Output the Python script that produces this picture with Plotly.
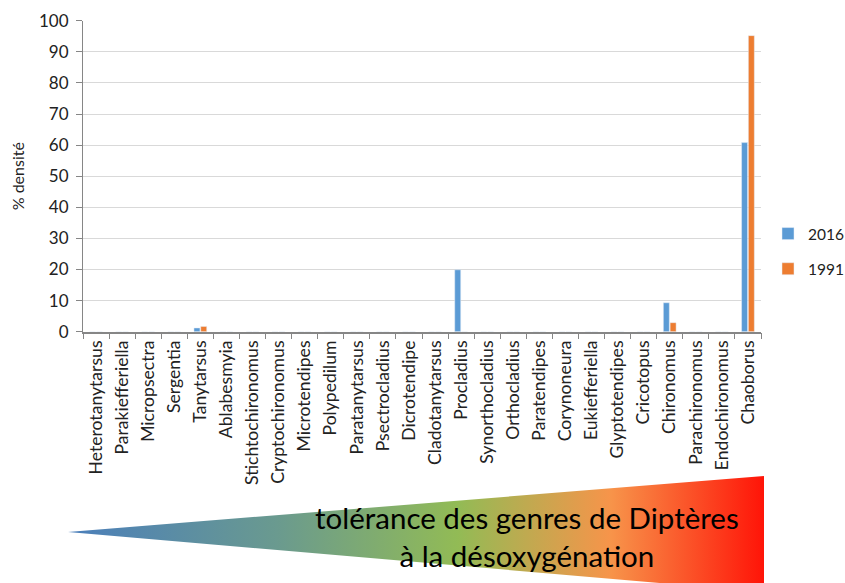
import plotly.graph_objects as go

# Chironomid / Chaoborus genera, ordered by increasing tolerance to deoxygenation
genres = [
    "Heterotanytarsus", "Parakiefferiella", "Micropsectra", "Sergentia", "Tanytarsus",
    "Ablabesmyia", "Stichtochironomus", "Cryptochironomus", "Microtendipes", "Polypedilum",
    "Paratanytarsus", "Psectrocladius", "Dicrotendipe", "Cladotanytarsus", "Procladius",
    "Synorthocladius", "Orthocladius", "Paratendipes", "Corynoneura", "Eukiefferiella",
    "Glyptotendipes", "Cricotopus", "Chironomus", "Parachironomus", "Endochironomus",
    "Chaoborus",
]

# % density per genus
dens_2016 = [0, 0, 0, 0, 1.2, 0, 0, 0, 0, 0, 0, 0, 0, 0, 19.9,
             0, 0, 0, 0, 0, 0, 0, 9.3, 0, 0, 60.8]
dens_1991 = [0, 0, 0, 0, 1.7, 0, 0, 0, 0, 0, 0, 0, 0, 0, 0,
             0, 0, 0, 0, 0, 0, 0, 2.9, 0, 0, 95.2]

y_ticks = [0, 10, 20, 30, 40, 50, 60, 70, 80, 90, 100]

# tolerance wedge (figure pixel frame) and its colour ramp
wedge_x = [68, 764, 764, 68]
wedge_y = [532, 476, 592, 532]
wedge_scale = [[0.0, "#4a7ebb"], [0.3, "#6a9a8f"], [0.56, "#92bb55"],
               [0.78, "#f7944a"], [1.0, "#ff1408"]]

W, H = 845, 583
FONT = "Lato, 'Noto Sans', sans-serif"

fig = go.Figure()

fig.add_trace(go.Bar(name="2016", x=genres, y=dens_2016, marker_color="#5b9bd5",
                     legendgroup="a", xaxis="x", yaxis="y"))
fig.add_trace(go.Bar(name="1991", x=genres, y=dens_1991, marker_color="#ed7d31",
                     legendgroup="b", xaxis="x", yaxis="y"))

fig.add_trace(go.Scatter(x=wedge_x, y=wedge_y, mode="lines", fill="toself",
                         line=dict(width=0),
                         fillgradient=dict(type="horizontal", colorscale=wedge_scale),
                         hoverinfo="skip", showlegend=False,
                         xaxis="x2", yaxis="y2"))

fig.update_layout(
    width=W, height=H,
    margin=dict(l=0, r=0, t=0, b=0, autoexpand=False),
    paper_bgcolor="white", plot_bgcolor="rgba(0,0,0,0)",
    font=dict(family=FONT, color="#404040", size=14),
    barmode="group", bargap=0.48, bargroupgap=0.12,
    xaxis=dict(domain=[83 / W, 761 / W], anchor="y",
               tickangle=-90, tickson="boundaries", ticks="outside", ticklen=6,
               tickcolor="#868686", showline=True, linecolor="#868686", linewidth=1.5,
               tickfont=dict(size=17.6, color="#222222"), showgrid=False),
    yaxis=dict(domain=[1 - 331.7 / H, 1 - 20.7 / H], anchor="x",
               range=[0, 100], tickvals=y_ticks, ticks="outside", ticklen=6,
               tickcolor="#868686", showline=True, linecolor="#868686",
               gridcolor="#d9d9d9", zeroline=False, ticklabelstandoff=4,
               tickfont=dict(size=17, color="#222222"),
               title=dict(text="% densité", font=dict(size=16, color="#222222"),
                          standoff=10)),
    xaxis2=dict(domain=[0, 1], range=[0, W], visible=False, anchor="y2"),
    yaxis2=dict(domain=[0, 1], range=[H, 0], visible=False, anchor="x2"),
    legend=dict(x=768 / W, y=1 - 217 / H, xanchor="left", yanchor="top",
                tracegroupgap=12, font=dict(size=15.5, color="#222222"),
                bgcolor="rgba(0,0,0,0)"),
    annotations=[dict(text="tolérance des genres de Diptères<br>à la désoxygénation",
                      xref="paper", yref="paper", x=527 / W, y=1 - 536 / H,
                      xanchor="center", yanchor="middle", showarrow=False,
                      align="center",
                      font=dict(size=29.5, color="#000000", family=FONT))],
)

fig.write_html("out.html")
